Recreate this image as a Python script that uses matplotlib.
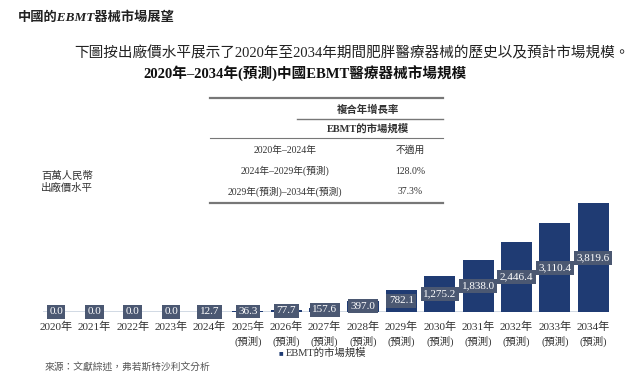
import matplotlib.pyplot as plt
import numpy as np

plt.rcParams['font.family'] = ['Liberation Serif', 'Noto Sans CJK TC', 'DejaVu Sans']

# data
years = ['2020年', '2021年', '2022年', '2023年', '2024年', '2025年', '2026年', '2027年',
         '2028年', '2029年', '2030年', '2031年', '2032年', '2033年', '2034年']
forecast = [False] * 5 + [True] * 10
market = [0.0, 0.0, 0.0, 0.0, 12.7, 36.3, 77.7, 157.6, 397.0, 782.1,
          1275.2, 1838.0, 2446.4, 3110.4, 3819.6]
cagr_periods = ['2020年–2024年', '2024年–2029年(預測)', '2029年(預測)–2034年(預測)']
cagr_values = ['不適用', '128.0%', '37.3%']

W, H = 640, 384
fig = plt.figure(figsize=(W / 100, H / 100), dpi=100)

def px(x, y):
    return x / W, 1 - y / H

bar_col = '#1f3b73'
box_col = '#4b5872'
txt = '#333333'

# bar chart
ax = fig.add_axes([43 / W, 72 / H, 566 / W, 114 / H])
x = np.arange(len(years))
ax.bar(x, market, width=0.81, color=bar_col, zorder=2)
ax.axhline(0, color='#c9d3df', lw=1.2, zorder=1)
ax.set_xlim(-0.34, 14.41)
ax.set_ylim(0, 4000)
ax.axis('off')
for xi, v in zip(x, market):
    ax.text(xi, v / 2, f'{v:,.1f}', ha='center', va='center', color='white',
            fontsize=8, zorder=3,
            bbox=dict(boxstyle='square,pad=0.22', fc=box_col, ec='none'))
for xi, lab, fc in zip(x, years, forecast):
    ax.text(xi, -0.13, lab, transform=ax.get_xaxis_transform(), ha='center', va='center',
            fontsize=8, color=txt)
    if fc:
        ax.text(xi, -0.26, '(預測)', transform=ax.get_xaxis_transform(), ha='center',
                va='center', fontsize=7.5, color=txt)

# headings
fig.text(*px(18, 18), '中國的EBMT器械市場展望', fontsize=9.5, fontweight='bold', style='italic',
         color='#222222', va='center')
fig.text(*px(352, 53), '下圖按出廠價水平展示了2020年至2034年期間肥胖醫療器械的歷史以及預計市場規模。',
         fontsize=10.5, color='#222222', ha='center', va='center')
fig.text(*px(305, 74), '2020年–2034年(預測)中國EBMT醫療器械市場規模', fontsize=10.5,
         fontweight='bold', color='#111111', ha='center', va='center')

# CAGR table
line_col = '#777777'
def hline(x0, x1, y, lw):
    fig.add_artist(plt.Line2D([x0 / W, x1 / W], [1 - y / H, 1 - y / H], color=line_col, lw=lw))

hline(210, 443, 98, 1.6)
hline(297, 443, 119, 1.0)
hline(210, 443, 138, 0.8)
hline(210, 443, 203, 1.6)
fig.text(*px(368, 110), '複合年增長率', fontsize=7.5, fontweight='bold', color=txt, ha='center', va='center')
fig.text(*px(368, 129), 'EBMT的市場規模', fontsize=7.5, fontweight='bold', color=txt, ha='center', va='center')
for yy, p, v in zip([150, 171, 192], cagr_periods, cagr_values):
    fig.text(*px(285, yy), p, fontsize=7, color=txt, ha='center', va='center')
    fig.text(*px(410, yy), v, fontsize=7, color=txt, ha='center', va='center')

# y unit label
fig.text(*px(67, 176), '百萬人民幣', fontsize=7.5, color=txt, ha='center', va='center')
fig.text(*px(67, 188), '出廠價水平', fontsize=7.5, color=txt, ha='center', va='center', style='italic')

# legend and source
fig.text(*px(279, 353), '■', fontsize=5.5, color=bar_col, ha='left', va='center')
fig.text(*px(286, 353), 'EBMT的市場規模', fontsize=7.5, color=txt, ha='left', va='center')
fig.text(*px(45, 367), '來源：文獻綜述，弗若斯特沙利文分析', fontsize=7, color='#555555',
         style='italic', ha='left', va='center')

fig.savefig('out.png', dpi=100)
